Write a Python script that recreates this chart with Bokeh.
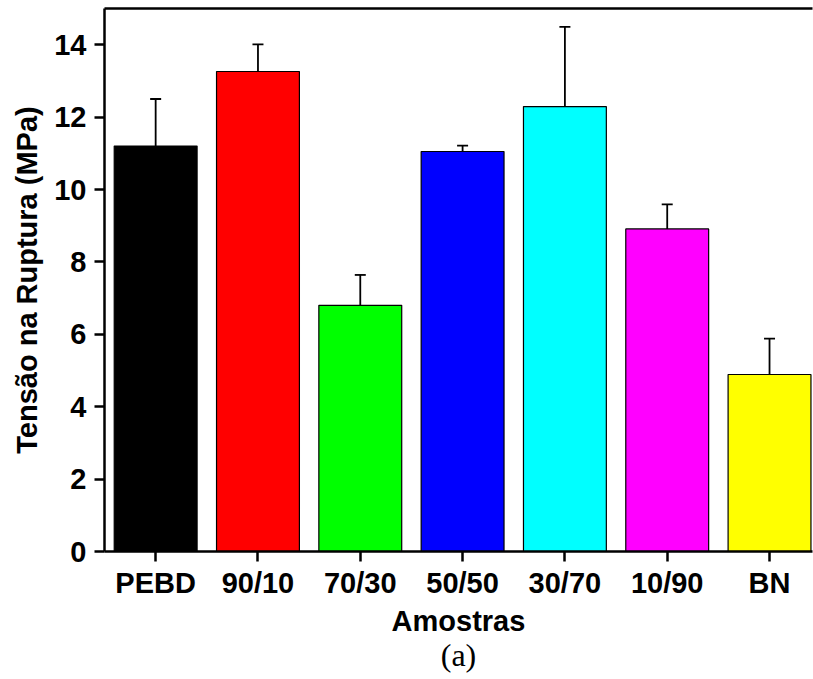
from bokeh.plotting import figure
from bokeh.models import (ColumnDataSource, Range1d, FixedTicker, LinearAxis,
                          Whisker, Title)
from bokeh.embed import file_html
from bokeh.resources import INLINE

# ---- data ----
categories = ["PEBD", "90/10", "70/30", "50/50", "30/70", "10/90", "BN"]
tensao = [11.2, 13.26, 6.8, 11.05, 12.29, 8.91, 4.89]
erro = [1.3, 0.75, 0.84, 0.16, 2.2, 0.68, 0.99]
cores = ["#000000", "#FF0000", "#00FF00", "#0000FF", "#00FFFF", "#FF00FF", "#FFFF00"]
y_ticks = [0, 2, 4, 6, 8, 10, 12, 14]

xs = list(range(1, len(categories) + 1))
src = ColumnDataSource(dict(
    x=xs, top=tensao, color=cores,
    upper=[v + e for v, e in zip(tensao, erro)],
    lower=[v - e for v, e in zip(tensao, erro)],
))

FONT = "Liberation Sans"

p = figure(width=813, height=679, output_backend="svg", toolbar_location=None,
           x_range=Range1d(0.5, 7.42), y_range=Range1d(0, 15),
           min_border_left=104, min_border_top=8, min_border_right=1,
           min_border_bottom=128)
p.outline_line_color = None
p.grid.visible = False
p.background_fill_color = "white"
p.border_fill_color = "white"

p.vbar(x="x", top="top", width=0.81, bottom=0, fill_color="color",
       line_color="black", line_width=1.2, source=src)

w = Whisker(base="x", upper="upper", lower="lower", source=src,
            line_color="black", line_width=1.8)
w.upper_head.size = 11
w.lower_head.size = 11
w.upper_head.line_width = 1.8
w.lower_head.line_width = 1.8
p.add_layout(w)

# axes
xa = p.xaxis[0]
xa.ticker = FixedTicker(ticks=xs)
xa.major_label_overrides = {i: c for i, c in zip(xs, categories)}
xa.minor_tick_line_color = None
ya = p.yaxis[0]
ya.ticker = FixedTicker(ticks=y_ticks)
ya.minor_tick_line_color = None

for ax in (xa, ya):
    ax.axis_line_width = 2.5
    ax.major_tick_line_width = 2.5
    ax.major_tick_out = 10
    ax.major_tick_in = 0
    ax.major_label_text_font = FONT
    ax.major_label_text_font_style = "bold"
    ax.major_label_text_font_size = "29px"
    ax.major_label_text_color = "black"
    ax.axis_label_text_font = FONT
    ax.axis_label_text_font_style = "bold"
    ax.axis_label_text_font_size = "29px"
    ax.axis_label_text_color = "black"

xa.axis_label = "Amostras"
xa.major_label_standoff = 5
xa.axis_label_standoff = 3
ya.axis_label = "Tensão na Ruptura (MPa)"
ya.major_label_standoff = 8
ya.axis_label_standoff = 8

top_axis = LinearAxis(ticker=FixedTicker(ticks=[]), major_label_text_font_size="0px",
                      axis_line_width=2.5, major_tick_line_color=None,
                      minor_tick_line_color=None)
p.add_layout(top_axis, "above")

p.add_layout(Title(text="(a)", align="center", text_font="Liberation Serif",
                   text_font_style="normal", text_font_size="32px",
                   text_color="black", standoff=-10), "below")

open("out.html", "w").write(file_html(p, INLINE))
